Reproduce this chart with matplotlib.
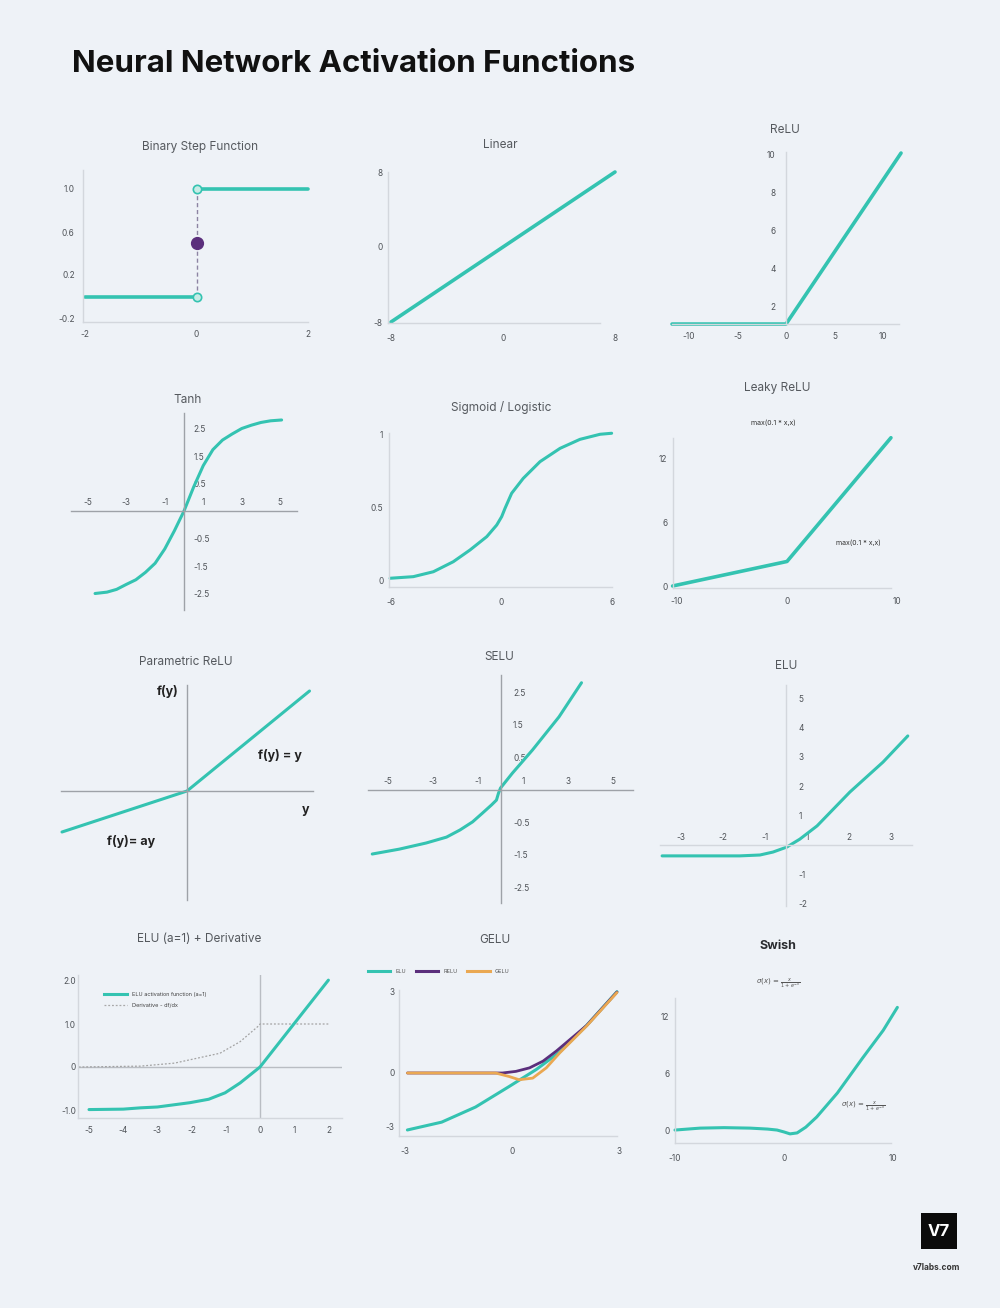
import matplotlib
matplotlib.use('Agg')
import matplotlib.pyplot as plt
from matplotlib.lines import Line2D
from matplotlib.patches import Rectangle

W, H = 1000, 1308
BG = '#eef2f7'
TEAL = '#34c3b1'
PURPLE = '#5b2f7c'
ORANGE = '#eaa852'
TXT = '#4f5358'
AXC = '#d3d7dd'
AXD = '#9ea2a8'

plt.rcParams['font.family'] = ['Inter', 'DejaVu Sans']

# ---- values ----
step_left_x, step_left_y = [-2, 0], [0, 0]
step_right_x, step_right_y = [0, 2], [1, 1]
step_open_x, step_open_y = [0, 0], [0, 1]
step_mid_x, step_mid_y = [0], [0.5]

lin_x = [-8, 8]
lin_y = [-8, 8]

relu_x = [-11.75, 0, 11.86]
relu_y = [1.05, 1.05, 10.05]

tanh_x = [-4.62, -4.0, -3.5, -3.0, -2.5, -2.0, -1.5, -1.0, -0.5, 0, 0.5, 1.0, 1.5, 2.0, 2.5, 3.0, 3.5, 4.0, 4.5, 5.07]
tanh_y = [-3.0, -2.95, -2.85, -2.67, -2.5, -2.23, -1.9, -1.38, -0.72, 0, 0.87, 1.65, 2.23, 2.58, 2.8, 3.0, 3.12, 3.22, 3.28, 3.31]

sig_x = [-6.05, -4.79, -3.70, -2.62, -1.71, -0.80, -0.26, 0.01, 0.19, 0.55, 1.18, 2.09, 3.18, 4.26, 5.35, 5.98]
sig_y = [0.012, 0.023, 0.057, 0.126, 0.207, 0.299, 0.379, 0.437, 0.494, 0.598, 0.701, 0.816, 0.908, 0.970, 1.005, 1.012]

leaky_x = [-10.4, 0, 9.45]
leaky_y = [0.0, 2.3, 13.9]

prelu_x = [-5, 0, 4.9]
prelu_y = [-1.64, 0, 4.0]

selu_x = [-5.7, -4.5, -3.3, -2.4, -1.8, -1.24, -0.8, -0.4, -0.18, -0.09, 0, 0.53, 1.42, 2.6, 3.6]
selu_y = [-1.97, -1.82, -1.63, -1.45, -1.23, -0.98, -0.71, -0.46, -0.31, -0.1, 0.06, 0.52, 1.23, 2.25, 3.3]

elu_x = [-2.95, -2.05, -1.1, -0.62, -0.31, 0.02, 0.33, 0.74, 1.52, 2.31, 2.9]
elu_y = [-0.37, -0.37, -0.37, -0.34, -0.24, -0.07, 0.2, 0.65, 1.8, 2.82, 3.71]

elu1_x = [-5, -4, -3.5, -3, -2.05, -1.5, -1.02, -0.58, 0, 0.97, 2.0]
elu1_y = [-0.99, -0.98, -0.95, -0.93, -0.83, -0.75, -0.6, -0.37, 0, 0.98, 2.02]
deriv_x = [-5.3, -3.5, -2.5, -1.17, -0.58, -0.05, 0, 2.05]
deriv_y = [0.0, 0.02, 0.09, 0.32, 0.59, 0.95, 1.0, 1.0]

gelu_elu_x = [-2.93, -1.97, -1.02, -0.08, 0.68, 1.34, 2.09, 2.94]
gelu_elu_y = [-2.11, -1.82, -1.26, -0.50, 0.13, 0.78, 1.76, 3.01]
gelu_relu_x = [-2.93, -0.27, 0.11, 0.49, 0.87, 1.24, 2.09, 2.94]
gelu_relu_y = [0, 0, 0.06, 0.19, 0.44, 0.81, 1.76, 3.0]
gelu_x = [-2.93, -0.46, -0.08, 0.2, 0.58, 0.96, 1.34, 2.09, 2.94]
gelu_y = [0, 0, -0.13, -0.25, -0.19, 0.19, 0.75, 1.74, 2.98]

swish_x = [-10, -7.7, -5.5, -3.1, -1.5, -0.64, 0.0, 0.55, 1.2, 2.0, 3.0, 4.9, 7.2, 9.1, 10.4]
swish_y = [0.1, 0.3, 0.35, 0.3, 0.2, 0.1, -0.1, -0.3, -0.2, 0.4, 1.46, 3.97, 7.6, 10.5, 12.9]

titles = ['Binary Step Function', 'Linear', 'ReLU', 'Tanh', 'Sigmoid / Logistic', 'Leaky ReLU',
          'Parametric ReLU', 'SELU', 'ELU', 'ELU (a=1) + Derivative', 'GELU']
title_pos = [(200, 147), (500, 145), (785, 130), (188, 400), (501, 408), (777, 388),
             (186, 662), (499, 657), (786, 666), (199, 939), (495, 940)]

fig = plt.figure(figsize=(10, 13.08), dpi=100, facecolor=BG)
limits = {}


def ftext(x, y, s, **kw):
    kw.setdefault('ha', 'center')
    kw.setdefault('va', 'center')
    return fig.text(x / W, 1 - y / H, s, **kw)


def panel(box, xmap, ymap, spine_right=None):
    # box in figure pixels (left, right, top, bottom); maps are (value, pixel, value, pixel)
    l, r, t, b = box
    x0, p0, x1, p1 = xmap
    sx = (x1 - x0) / (p1 - p0)
    y0, q0, y1, q1 = ymap
    sy = (y1 - y0) / (q1 - q0)
    ax = fig.add_axes([l / W, 1 - b / H, (r - l) / W, (b - t) / H])
    xl = (x0 + (l - p0) * sx, x0 + (r - p0) * sx)
    yl = (y0 + (b - q0) * sy, y0 + (t - q0) * sy)
    ax.set_xlim(xl)
    ax.set_ylim(yl)
    limits[ax] = (xl, yl)
    ax.patch.set_visible(False)
    for s in ax.spines.values():
        s.set_visible(False)
        s.set_color(AXC)
        s.set_linewidth(1)
    if spine_right is not None:
        # bottom axis line shorter than the plotting area
        ax.spines['bottom'].set_bounds(xl[0], x0 + (spine_right - p0) * sx)
    ax.tick_params(length=0, labelsize=6, labelcolor=TXT)
    ax.set_xticks([])
    ax.set_yticks([])
    return ax


def cross(ax, color=AXD):
    # axes crossing at the origin, labels above / right
    ax.spines['top'].set_position(('data', 0))
    ax.spines['right'].set_position(('data', 0))
    for k in ['top', 'right']:
        ax.spines[k].set_visible(True)
        ax.spines[k].set_color(color)
    ax.xaxis.tick_top()
    ax.yaxis.tick_right()


def curve(ax, x, y, color=TEAL, lw=2.2, **kw):
    ax.plot(x, y, color=color, lw=lw, solid_capstyle='round', solid_joinstyle='round',
            clip_on=False, **kw)


fig.text(72 / W, 1 - 64 / H, 'Neural Network Activation Functions', ha='left', va='center',
         fontsize=22.5, fontweight='bold', color='#111111')

for t, (tx, ty) in zip(titles, title_pos):
    ftext(tx, ty, t, fontsize=8.5, color='#55595e')
ftext(778, 946, 'Swish', fontsize=9, fontweight='bold', color='#2a2c30')

# 1 binary step
ax = panel((83, 308, 170, 322), (-2, 85, 2, 308), (1.0, 189, -0.2, 318))
ax.spines['left'].set_visible(True)
ax.spines['bottom'].set_visible(True)
ax.set_xticks([-2, 0, 2], ['-2', '0', '2'])
ax.set_yticks([1.0, 0.6, 0.2, -0.2], ['1.0', '0.6', '0.2', '-0.2'])
ax.tick_params(axis='x', pad=6)
ax.tick_params(axis='y', pad=6)
ax.plot(step_open_x, step_open_y, color='#8d84a3', lw=1, ls=(0, (3, 2)), clip_on=False)
curve(ax, step_left_x, step_left_y, lw=2.6)
curve(ax, step_right_x, step_right_y, lw=2.6)
ax.plot(step_open_x, step_open_y, 'o', ms=6, mfc='#c7ece6', mec=TEAL, mew=1.2, clip_on=False)
ax.plot(step_mid_x, step_mid_y, 'o', ms=8.5, color=PURPLE, clip_on=False)

# 2 linear
ax = panel((388, 617, 172, 323), (-8, 391, 8, 615), (8, 172, -8, 322), spine_right=600)
ax.spines['left'].set_visible(True)
ax.spines['bottom'].set_visible(True)
ax.set_xticks([-8, 0, 8], ['-8', '0', '8'])
ax.set_yticks([8, 0, -8], ['8', '0', '-8'])
ax.tick_params(axis='x', pad=8)
ax.tick_params(axis='y', pad=4)
curve(ax, lin_x, lin_y, lw=2.6)

# 3 relu
ax = panel((672, 899, 152, 324), (0, 786, 10, 883), (10, 154, 2, 306))
ax.spines['bottom'].set_visible(True)
ax.spines['left'].set_visible(True)
ax.spines['left'].set_position(('data', 0))
ax.set_xticks([-10, -5, 0, 5, 10], ['-10', '-5', '0', '5', '10'])
ax.set_yticks([10, 8, 6, 4, 2], ['10', '8', '6', '4', '2'])
ax.tick_params(axis='x', pad=5.5)
ax.tick_params(axis='y', pad=7.5)
curve(ax, relu_x, relu_y, lw=2.6)

# 4 tanh
ax = panel((71, 297, 413, 610), (0, 184, 5, 280.25), (0, 511, 1, 483.5))
cross(ax)
ax.set_xticks([-5, -3, -1, 1, 3, 5], ['-5', '-3', '-1', '1', '3', '5'])
ax.set_yticks([3, 2, 1, -1, -2, -3], ['2.5', '1.5', '0.5', '-0.5', '-1.5', '-2.5'])
ax.tick_params(axis='x', pad=3)
ax.tick_params(axis='y', pad=7)
curve(ax, tanh_x, tanh_y)

# 5 sigmoid
ax = panel((389, 613, 433, 587), (-6, 391, 6, 612), (0, 580, 1, 435), spine_right=612)
ax.spines['left'].set_visible(True)
ax.spines['bottom'].set_visible(True)
ax.set_xticks([-6, 0, 6], ['-6', '0', '6'])
ax.set_yticks([1, 0.5, 0], ['1', '0.5', '0'])
ax.tick_params(axis='x', pad=8)
ax.tick_params(axis='y', pad=4)
curve(ax, sig_x, sig_y)

# 6 leaky relu
ax = panel((673, 899, 438, 588), (0, 787, 10, 897), (0, 586, 12, 458), spine_right=891)
ax.spines['left'].set_visible(True)
ax.spines['bottom'].set_visible(True)
ax.set_xticks([-10, 0, 10], ['-10', '0', '10'])
ax.set_yticks([12, 6, 0], ['12', '6', '0'])
ax.tick_params(axis='x', pad=6.5)
ax.tick_params(axis='y', pad=4)
curve(ax, leaky_x, leaky_y, lw=2.6)
ftext(773, 423, 'max(0.1 * x,x)', fontsize=5, color='#333333')
ftext(858, 543, 'max(0.1 * x,x)', fontsize=5, color='#333333')

# 7 parametric relu
ax = panel((61, 313, 685, 900), (0, 187, 1, 212), (0, 791, 1, 766))
for k in ['left', 'bottom']:
    ax.spines[k].set_visible(True)
    ax.spines[k].set_position(('data', 0))
    ax.spines[k].set_color(AXD)
curve(ax, prelu_x, prelu_y)
ftext(168, 692, 'f(y)', fontsize=9, fontweight='bold', color='#222222')
ftext(280, 755, 'f(y) = y', fontsize=9, fontweight='bold', color='#222222')
ftext(306, 810, 'y', fontsize=9, fontweight='bold', color='#222222')
ftext(131, 841, 'f(y)= ay', fontsize=9, fontweight='bold', color='#222222')

# 8 selu
ax = panel((368, 633, 675, 903), (0, 500.5, 1, 523), (0, 790, 1, 757.5))
cross(ax)
ax.set_xticks([-5, -3, -1, 1, 3, 5], ['-5', '-3', '-1', '1', '3', '5'])
ax.set_yticks([3, 2, 1, -1, -2, -3], ['2.5', '1.5', '0.5', '-0.5', '-1.5', '-2.5'])
ax.tick_params(axis='x', pad=3)
ax.tick_params(axis='y', pad=9)
curve(ax, selu_x, selu_y)

# 9 elu
ax = panel((660, 912, 685, 906), (0, 786, 1, 828), (0, 845, 5, 698))
cross(ax, AXC)
ax.set_xticks([-2.5, -1.5, -0.5, 0.5, 1.5, 2.5], ['-3', '-2', '-1', '1', '2', '3'])
ax.set_yticks([5, 4, 3, 2, 1, -1, -2], ['5', '4', '3', '2', '1', '-1', '-2'])
ax.tick_params(axis='x', pad=2)
ax.tick_params(axis='y', pad=9)
curve(ax, elu_x, elu_y)

# 10 elu + derivative
ax = panel((78, 342, 975, 1118), (0, 260, 1, 294.2), (0, 1067, 1, 1024))
ax.spines['left'].set_visible(True)
ax.spines['bottom'].set_visible(True)
ax.axhline(0, color='#b9bdc3', lw=1)
ax.axvline(0, color='#b9bdc3', lw=1)
ax.set_xticks([-5, -4, -3, -2, -1, 0, 1, 2], ['-5', '-4', '-3', '-2', '-1', '0', '1', '2'])
ax.set_yticks([2, 1, 0, -1], ['2.0', '1.0', '0', '-1.0'])
ax.tick_params(axis='x', pad=5.5)
ax.tick_params(axis='y', pad=1.5)
ax.plot(deriv_x, deriv_y, color='#a3a3a3', lw=0.9, ls=(0, (1.5, 1.5)), clip_on=False)
curve(ax, elu1_x, elu1_y)
handles = [Line2D([], [], color=TEAL, lw=2.2), Line2D([], [], color='#a8a8a8', lw=0.9, ls=(0, (1.5, 1.5)))]
ax.legend(handles, ['ELU activation function (a=1)', 'Derivative - df/dx'], loc='upper left',
          bbox_to_anchor=(104 / W, 1 - 992 / H), bbox_transform=fig.transFigure,
          frameon=False, fontsize=4, handlelength=4.2, handletextpad=0.9, borderpad=0,
          borderaxespad=0, labelspacing=1.0, labelcolor='#444444')

# 11 gelu
ax = panel((399, 621, 990, 1136), (0, 512, 1, 547.7), (0, 1073, 1, 1046), spine_right=617)
ax.spines['left'].set_visible(True)
ax.spines['bottom'].set_visible(True)
ax.set_xticks([-3, 0, 3], ['-3', '0', '3'])
ax.set_yticks([3, 0, -2], ['3', '0', '-3'])
ax.tick_params(axis='x', pad=8)
ax.tick_params(axis='y', pad=3)
curve(ax, gelu_elu_x, gelu_elu_y)
curve(ax, gelu_relu_x, gelu_relu_y, color=PURPLE, lw=2.0)
curve(ax, gelu_x, gelu_y, color=ORANGE, lw=2.0)
handles = [Line2D([], [], color=c, lw=2.2) for c in [TEAL, PURPLE, ORANGE]]
ax.legend(handles, ['ELU', 'RELU', 'GELU'], loc='upper left', ncol=3,
          bbox_to_anchor=(368 / W, 1 - 969 / H), bbox_transform=fig.transFigure,
          frameon=False, fontsize=4, handlelength=4.0, handletextpad=0.9, borderpad=0,
          borderaxespad=0, columnspacing=1.8, labelcolor='#555555')

# 12 swish
ax = panel((675, 896, 998, 1143), (0, 784, 10, 893), (0, 1131, 12, 1016), spine_right=891)
ax.spines['left'].set_visible(True)
ax.spines['bottom'].set_visible(True)
ax.set_xticks([-10, 0, 10], ['-10', '0', '10'])
ax.set_yticks([12, 6, 0], ['12', '6', '0'])
ax.tick_params(axis='x', pad=8)
ax.tick_params(axis='y', pad=4)
curve(ax, swish_x, swish_y)
ftext(778, 983, r'$\sigma(x)\,=\,\frac{x}{1+e^{-x}}$', fontsize=5, color='#555555')
ftext(863, 1106, r'$\sigma(x)\,=\,\frac{x}{1+e^{-x}}$', fontsize=5, color='#555555')

# set_xticks widens the view, so put the pixel-matched limits back
for a, (xl, yl) in limits.items():
    a.set_xlim(xl)
    a.set_ylim(yl)

# logo
fig.patches.append(Rectangle((921 / W, 1 - 1249 / H), 36 / W, 36 / H, transform=fig.transFigure,
                             facecolor='#0b0b0b', edgecolor='none'))
ftext(939, 1231, 'V7', fontsize=12, fontweight='bold', color='white')
ftext(937, 1267, 'v7labs.com', fontsize=6, fontweight='bold', color='#333333')

fig.savefig('out.png', dpi=100, facecolor=BG)
